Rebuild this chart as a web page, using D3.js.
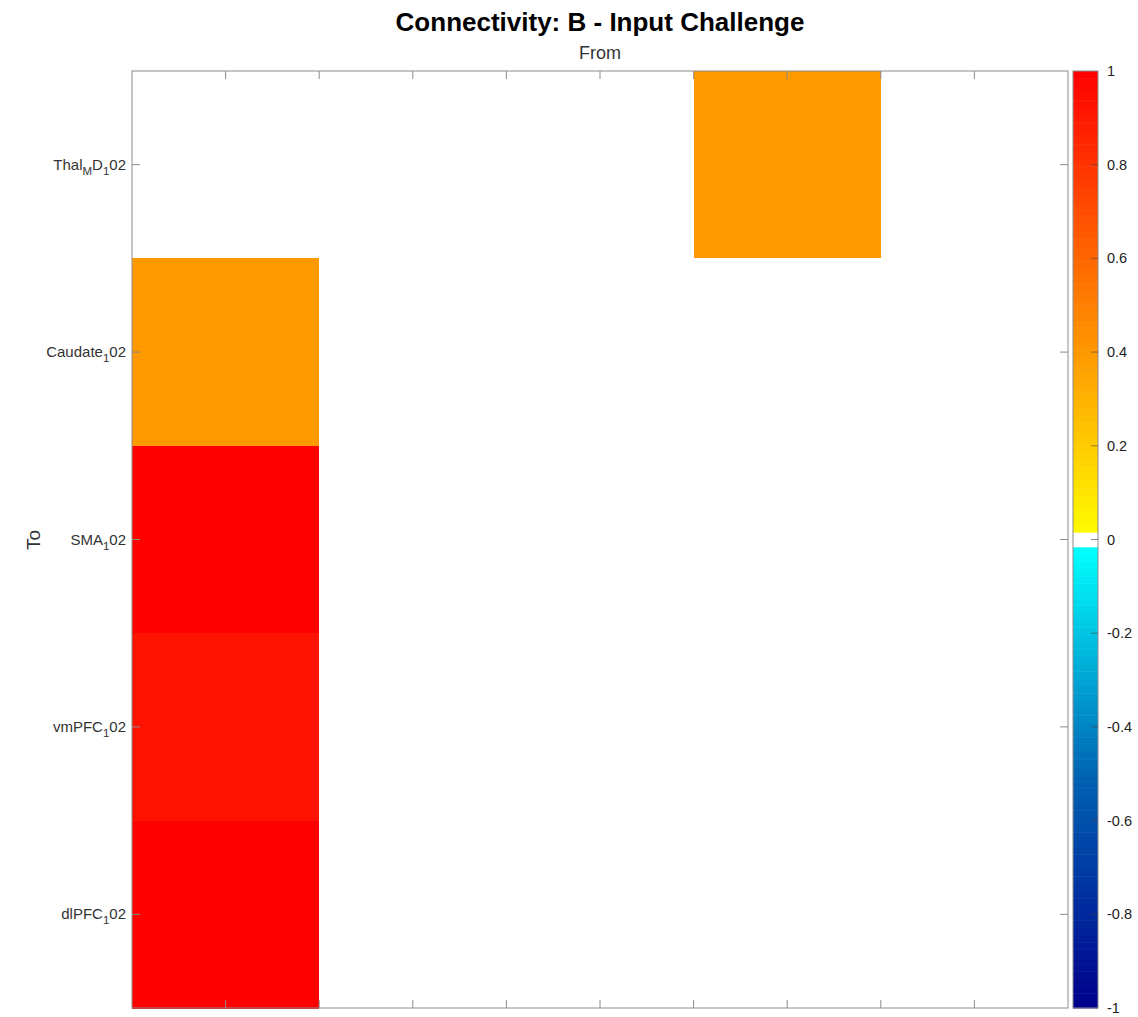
<!DOCTYPE html>
<html>
<head>
<meta charset="utf-8">
<script src="https://cdn.jsdelivr.net/npm/d3@7"></script>
<style>
  body { margin: 0; background: #fff; }
  text { font-family: "Liberation Sans", Arial, sans-serif; }
</style>
</head>
<body>
<svg id="chart" width="1138" height="1017"></svg>
<script>
// region labels (rows = To), parts: [text, isSub]
const rowLabels = [
    [['Thal', 0], ['M', 1], ['D', 0], ['1', 1], ['02', 0]],
    [['Caudate', 0], ['1', 1], ['02', 0]],
    [['SMA', 0], ['1', 1], ['02', 0]],
    [['vmPFC', 0], ['1', 1], ['02', 0]],
    [['dlPFC', 0], ['1', 1], ['02', 0]]
]
const colKeys = [0, 1, 2, 3, 4]  // From (no tick labels shown)
const values = [
    [0, 0, 0, 0.4, 0],
    [0.4, 0, 0, 0, 0],
    [1.0, 0, 0, 0, 0],
    [0.93, 0, 0, 0, 0],
    [1.0, 0, 0, 0, 0]
]
const cbTicks = [1, 0.8, 0.6, 0.4, 0.2, 0, -0.2, -0.4, -0.6, -0.8, -1]

const svg = d3.select('#chart')
const pLeft = 132, pRight = 1068, pTop = 71, pBottom = 1008
const axisColor = '#8c8c8c'

const x = d3.scaleBand().domain(colKeys).range([pLeft, pRight])
const y = d3.scaleBand().domain(d3.range(rowLabels.length)).range([pTop, pBottom])

// colour map: yellow->red for positive, cyan->dark blue for negative, white near 0
const neg = d3.scaleLinear().domain([-1, -0.5, -0.02]).range(['#00008c', '#0064b4', '#00ffff'])
function color(v) {
    if (Math.abs(v) < 0.017) return '#ffffff'
    if (v > 0) return d3.rgb(255, Math.round(255 * (1 - v)), 0).toString()
    return neg(v)
}

// cells
values.forEach(function (row, i) {
    svg.selectAll('.cell' + i)
        .data(row)
        .enter().append('rect')
        .attr('x', (d, j) => x(colKeys[j]))
        .attr('y', y(i))
        .attr('width', x.bandwidth() + 0.5)
        .attr('height', y.bandwidth() + 0.5)
        .attr('shape-rendering', 'crispEdges')
        .attr('fill', d => color(d))
})

// frame
svg.append('rect')
    .attr('x', pLeft).attr('y', pTop)
    .attr('width', pRight - pLeft).attr('height', pBottom - pTop)
    .attr('fill', 'none').attr('stroke', axisColor).attr('stroke-width', 1)

// x ticks at centres and internal boundaries (top and bottom)
const xTickPos = []
colKeys.forEach(function (k, j) {
    xTickPos.push(x(k) + x.bandwidth() / 2)
    if (j > 0) xTickPos.push(x(k))
})
xTickPos.forEach(function (px) {
    svg.append('line').attr('x1', px).attr('x2', px).attr('y1', pTop).attr('y2', pTop + 8)
        .attr('stroke', axisColor)
    svg.append('line').attr('x1', px).attr('x2', px).attr('y1', pBottom).attr('y2', pBottom - 8)
        .attr('stroke', axisColor)
})

// y ticks + labels
rowLabels.forEach(function (parts, i) {
    let py = y(i) + y.bandwidth() / 2
    svg.append('line').attr('x1', pLeft).attr('x2', pLeft + 8).attr('y1', py).attr('y2', py)
        .attr('stroke', axisColor)
    svg.append('line').attr('x1', pRight).attr('x2', pRight - 8).attr('y1', py).attr('y2', py)
        .attr('stroke', axisColor)
    let t = svg.append('text')
        .attr('x', pLeft - 6).attr('y', py + 5)
        .attr('text-anchor', 'end')
        .attr('font-size', 15).attr('fill', '#333')
    parts.forEach(function (p, k) {
        let prevSub = k > 0 && parts[k - 1][1]
        t.append('tspan')
            .attr('font-size', p[1] ? 11.5 : 15)
            .attr('dy', p[1] ? 5 : (prevSub ? -5 : 0))
            .text(p[0])
    })
})

// titles
svg.append('text').attr('x', 600).attr('y', 31).attr('text-anchor', 'middle')
    .attr('font-size', 26).attr('font-weight', 'bold').attr('fill', '#000')
    .text('Connectivity: B - Input Challenge')
svg.append('text').attr('x', 600).attr('y', 59).attr('text-anchor', 'middle')
    .attr('font-size', 18).attr('fill', '#333').text('From')
svg.append('text').attr('transform', 'translate(40,540) rotate(-90)')
    .attr('text-anchor', 'middle').attr('font-size', 19).attr('fill', '#333').text('To')

// colorbar
const cbX = 1073, cbW = 25
const cy = d3.scaleLinear().domain([-1, 1]).range([pBottom, pTop])
const steps = d3.range(-1, 1, 2 / 128)
svg.selectAll('.cb').data(steps).enter().append('rect')
    .attr('x', cbX)
    .attr('y', d => cy(d + 2 / 128))
    .attr('width', cbW)
    .attr('height', d => cy(d) - cy(d + 2 / 128) + 0.5)
    .attr('fill', d => color(d + 1 / 128))
svg.append('rect').attr('x', cbX).attr('y', pTop).attr('width', cbW).attr('height', pBottom - pTop)
    .attr('fill', 'none').attr('stroke', axisColor)
cbTicks.forEach(function (v) {
    let py = cy(v)
    if (v !== 1 && v !== -1) {
        svg.append('line').attr('x1', cbX + cbW - 7).attr('x2', cbX + cbW).attr('y1', py).attr('y2', py)
            .attr('stroke', '#444').attr('stroke-opacity', 0.6)
    }
    svg.append('text').attr('x', cbX + cbW + 9).attr('y', py + 5)
        .attr('font-size', 14.5).attr('fill', '#222')
        .text(String(v))
})
</script>
</body>
</html>
